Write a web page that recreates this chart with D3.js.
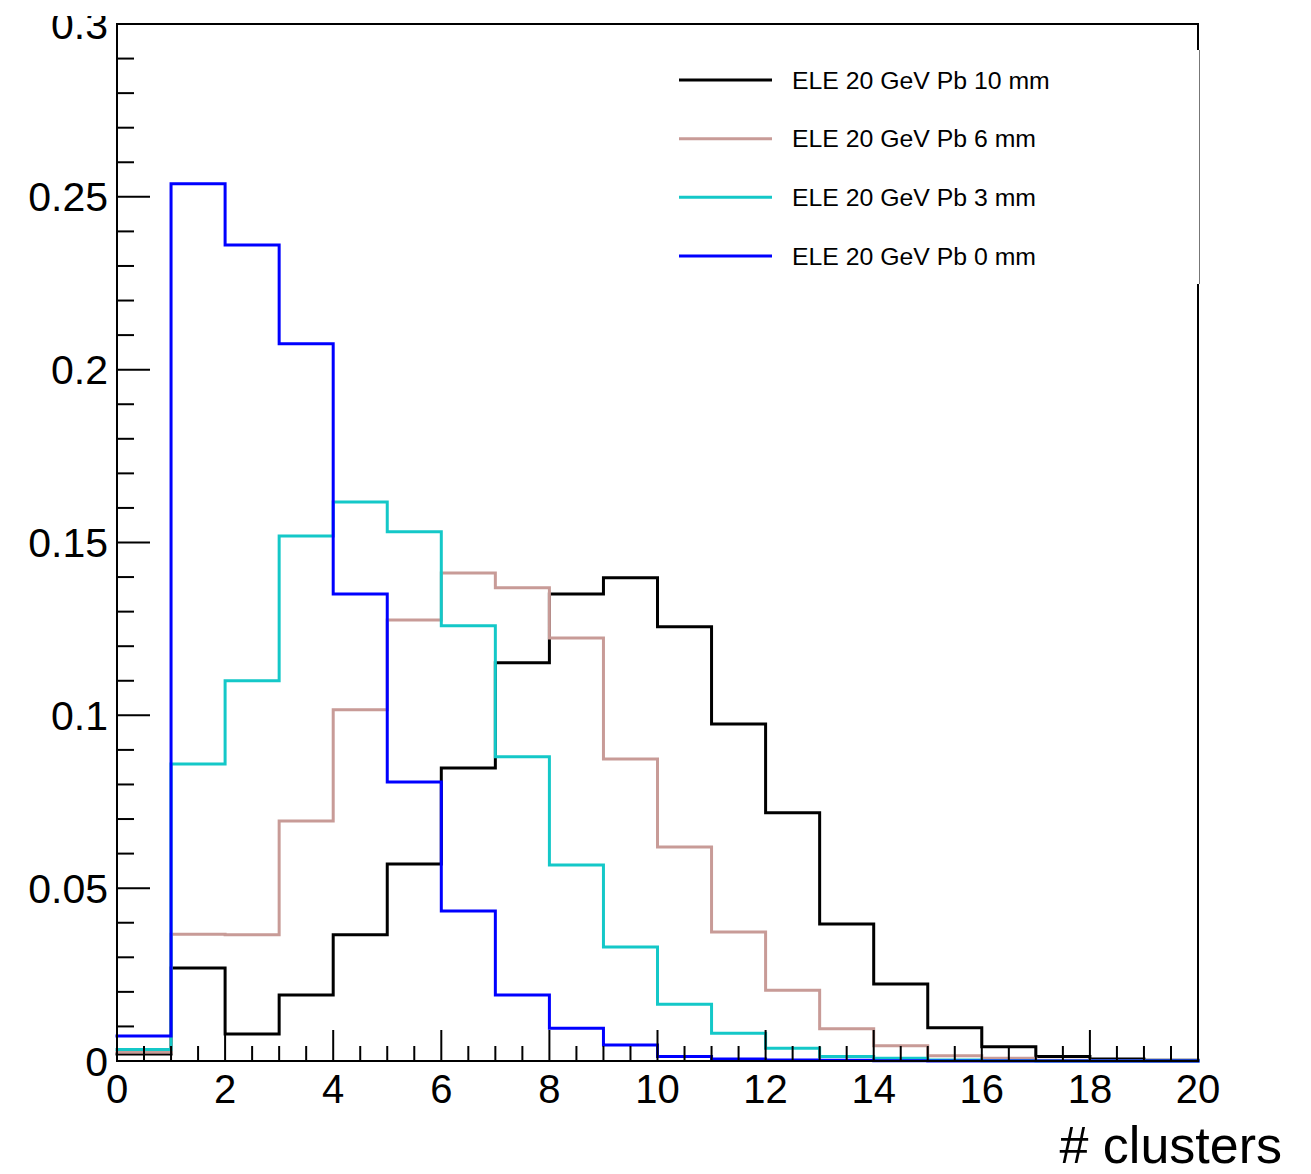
<!DOCTYPE html>
<html>
<head>
<meta charset="utf-8">
<script src="https://cdn.jsdelivr.net/npm/d3@7"></script>
<style>
  html, body { margin: 0; padding: 0; background: #fff; }
  text { font-family: "Liberation Sans", Arial, Helvetica, sans-serif; fill: #000; }
</style>
</head>
<body>
<svg id="chart" width="1311" height="1174"></svg>
<script>
// ---- data ----
const binEdges = [0,1,2,3,4,5,6,7,8,9,10,11,12,13,14,15,16,17,18,19,20];
const pb10 = [0.0020,0.0269,0.0078,0.0191,0.0365,0.0570,0.0848,0.1152,0.1351,0.1398,0.1256,0.0975,0.0718,0.0396,0.0223,0.0096,0.0041,0.0013,0.0006,0.0002];
const pb6  = [0.0025,0.0367,0.0365,0.0694,0.1016,0.1276,0.1412,0.1369,0.1224,0.0874,0.0619,0.0373,0.0205,0.0093,0.0044,0.0015,0.0008,0.0002,0.0001,0.0000];
const pb3  = [0.0033,0.0859,0.1100,0.1519,0.1617,0.1531,0.1259,0.0880,0.0567,0.0330,0.0164,0.0080,0.0037,0.0013,0.0008,0.0003,0.0001,0.0000,0.0000,0.0000];
const pb0  = [0.0072,0.2538,0.2361,0.2075,0.1351,0.0807,0.0434,0.0191,0.0095,0.0046,0.0013,0.0006,0.0003,0.0002,0.0001,0.0000,0.0000,0.0000,0.0000,0.0000];
const seriesNames = ["ELE 20 GeV Pb 10 mm","ELE 20 GeV Pb 6 mm","ELE 20 GeV Pb 3 mm","ELE 20 GeV Pb 0 mm"];
const seriesValues = [pb10, pb6, pb3, pb0];
const seriesColors = ["#000000","#c89b97","#14c8c8","#0000ff"];
const xTickLabels = [0,2,4,6,8,10,12,14,16,18,20];
const yTickLabels = [0,0.05,0.1,0.15,0.2,0.25,0.3];
const xTitle = "# clusters";

// ---- layout ----
const L = 117, R = 1198, T = 24, B = 1061;
const svg = d3.select("#chart");
const x = d3.scaleLinear().domain([0,20]).range([L,R]);
const y = d3.scaleLinear().domain([0,0.3]).range([B,T]);

// histograms
const line = d3.line().x(d => x(d[0])).y(d => y(d[1])).curve(d3.curveStepAfter);
seriesValues.forEach((vals, i) => {
  const pts = vals.map((v, k) => [binEdges[k], v]);
  pts.push([binEdges[vals.length], vals[vals.length-1]]);
  svg.append("path")
    .attr("d", line(pts))
    .attr("fill", "none")
    .attr("stroke", seriesColors[i])
    .attr("stroke-width", 3)
    .attr("stroke-linejoin", "miter")
    .attr("stroke-linecap", "square");
});

// frame
svg.append("rect").attr("x", L).attr("y", T).attr("width", R-L).attr("height", B-T)
  .attr("fill", "none").attr("stroke", "#000").attr("stroke-width", 2);

// x axis ticks (inward)
const xMinor = d3.range(0, 20.001, 0.5);
svg.append("g").selectAll("line").data(xMinor).join("line")
  .attr("x1", d => x(d)).attr("x2", d => x(d))
  .attr("y1", B).attr("y2", d => (Math.abs(d % 2) < 1e-9) ? B-31 : B-15)
  .attr("stroke", "#000").attr("stroke-width", 2);
svg.append("g").selectAll("text").data(xTickLabels).join("text")
  .attr("x", d => x(d)).attr("y", B+42)
  .attr("text-anchor", "middle").attr("font-size", 40)
  .text(d => d);

// y axis ticks (inward)
const yMinor = d3.range(0, 0.3001, 0.01);
svg.append("g").selectAll("line").data(yMinor).join("line")
  .attr("x1", L).attr("x2", d => (Math.round(d*100) % 5 === 0) ? L+33 : L+17)
  .attr("y1", d => y(d)).attr("y2", d => y(d))
  .attr("stroke", "#000").attr("stroke-width", 2);

svg.append("defs").append("clipPath").attr("id", "topclip")
  .append("rect").attr("x", 0).attr("y", 16).attr("width", 1311).attr("height", 1174);
svg.append("g").attr("clip-path", "url(#topclip)")
  .selectAll("text").data(yTickLabels).join("text")
  .attr("x", 108).attr("y", d => y(d)).attr("dy", "0.355em")
  .attr("text-anchor", "end").attr("font-size", 41)
  .text(d => d === 0 ? "0" : String(d));

// axis title
svg.append("text").attr("x", 1282).attr("y", 1163)
  .attr("text-anchor", "end").attr("font-size", 52).text(xTitle);

// legend
const lg = svg.append("g");
lg.append("rect").attr("x", 650).attr("y", 50).attr("width", 549).attr("height", 234)
  .attr("fill", "#fff");
lg.append("line").attr("x1", 1199.5).attr("x2", 1199.5).attr("y1", 50).attr("y2", 284)
  .attr("stroke", "#777").attr("stroke-width", 1);
const legY = d3.scalePoint().domain(seriesNames).range([80, 256]);
seriesNames.forEach((name, i) => {
  lg.append("line").attr("x1", 679).attr("x2", 772)
    .attr("y1", legY(name)).attr("y2", legY(name))
    .attr("stroke", seriesColors[i]).attr("stroke-width", 3);
  lg.append("text").attr("x", 792).attr("y", legY(name)).attr("dy", "0.355em")
    .attr("font-size", 24.8).text(name);
});
</script>
</body>
</html>
